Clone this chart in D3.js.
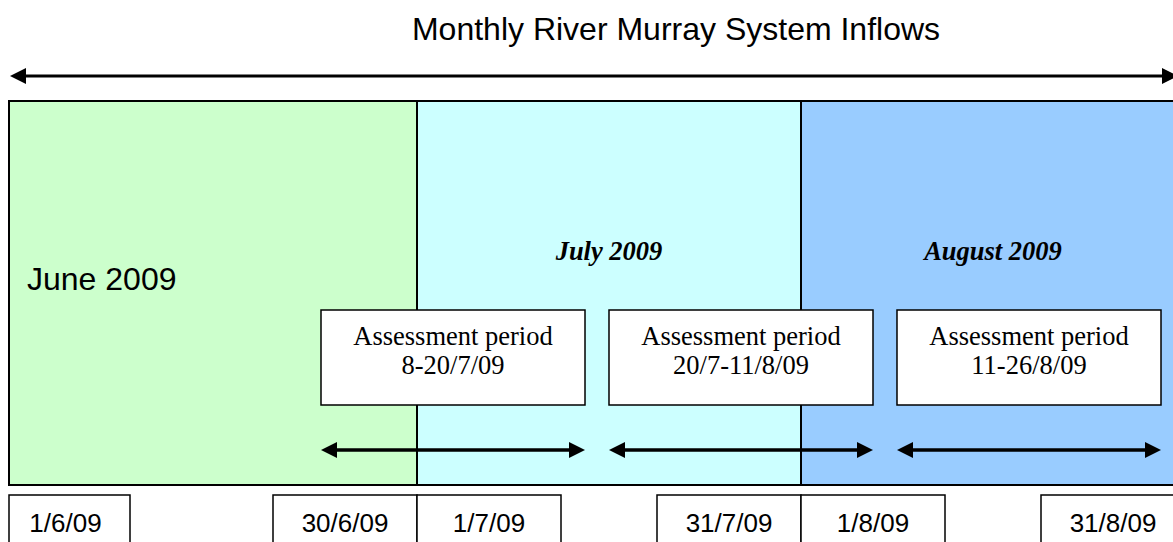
<!DOCTYPE html>
<html>
<head>
<meta charset="utf-8">
<script src="https://cdn.jsdelivr.net/npm/d3@7"></script>
<style>
  body { margin: 0; background: #fff; }
  svg { display: block; }
</style>
</head>
<body>
<svg id="chart"></svg>
<script>
// data
const title = "Monthly River Murray System Inflows";
const months = ["June 2009", "July 2009", "August 2009"];
const monthStarts = ["2009-06-01", "2009-07-01", "2009-08-01", "2009-09-01"];
const monthColors = ["#CCFFCC", "#CCFFFF", "#99CCFF"];
const periods = ["8-20/7/09", "20/7-11/8/09", "11-26/8/09"];
const dateLabels = ["1/6/09", "30/6/09", "1/7/09", "31/7/09", "1/8/09", "31/8/09"];
const dateValues = ["2009-06-01", "2009-06-30", "2009-07-01", "2009-07-31", "2009-08-01", "2009-08-31"];
const dateAlign = ["start", "end", "start", "end", "start", "end"];

const W = 1173, H = 542;
const svg = d3.select("svg#chart").attr("width", W).attr("height", H);

const parse = d3.timeParse("%Y-%m-%d");
// each month gets its own span of the width
let x = d3.scaleTime()
    .domain(monthStarts.map(parse))
    .range([9, 417, 801, 1185]);

let band = d3.scaleBand()
    .domain(periods)
    .range([321, 1161])
    .paddingInner(0.0833)
    .paddingOuter(0);

const panelTop = 101, panelBottom = 485;
const sans = "Arial, 'Liberation Sans', sans-serif";
const serif = "'Times New Roman', 'Liberation Serif', serif";

function arrowHead(g, xTip, y, dir) {
    // dir = -1 points left, 1 points right
    g.append("path")
        .attr("d", `M${xTip},${y} L${xTip - dir * 16},${y - 8} L${xTip - dir * 16},${y + 8} Z`)
        .attr("fill", "#000");
}

function doubleArrow(x0, x1, y, w) {
    let g = svg.append("g");
    g.append("line")
        .attr("x1", x0 + 10).attr("x2", x1 - 10)
        .attr("y1", y).attr("y2", y)
        .attr("stroke", "#000")
        .attr("stroke-width", w);
    arrowHead(g, x0, y, -1);
    arrowHead(g, x1, y, 1);
}

// title
svg.append("text")
    .attr("x", 676).attr("y", 40)
    .attr("text-anchor", "middle")
    .style("font-family", sans)
    .style("font-size", "32px")
    .text(title);

doubleArrow(10, 1178, 76, 3);

// month panels
svg.selectAll("rect.month")
    .data(months)
    .enter()
    .append("rect")
    .classed("month", true)
    .attr("x", (d, i) => x(parse(monthStarts[i])))
    .attr("width", (d, i) => x(parse(monthStarts[i + 1])) - x(parse(monthStarts[i])))
    .attr("y", panelTop)
    .attr("height", panelBottom - panelTop)
    .attr("fill", (d, i) => monthColors[i])
    .attr("stroke", "#000")
    .attr("stroke-width", 2);

svg.append("text")
    .attr("x", x(parse(monthStarts[0])) + 18).attr("y", 290)
    .style("font-family", sans)
    .style("font-size", "32px")
    .text(months[0]);

svg.selectAll("text.month")
    .data(months.slice(1))
    .enter()
    .append("text")
    .classed("month", true)
    .attr("x", (d, i) => (x(parse(monthStarts[i + 1])) + x(parse(monthStarts[i + 2]))) / 2)
    .attr("y", 260)
    .attr("text-anchor", "middle")
    .style("font-family", serif)
    .style("font-size", "26.5px")
    .style("font-weight", "bold")
    .style("font-style", "italic")
    .text(d => d);

// assessment period boxes
let boxes = svg.selectAll("g.period")
    .data(periods)
    .enter()
    .append("g")
    .classed("period", true);

boxes.append("rect")
    .attr("x", d => band(d))
    .attr("width", band.bandwidth())
    .attr("y", 310)
    .attr("height", 95)
    .attr("fill", "#fff")
    .attr("stroke", "#000")
    .attr("stroke-width", 1.5);

boxes.append("text")
    .attr("text-anchor", "middle")
    .style("font-family", serif)
    .style("font-size", "26.5px")
    .each(function (d) {
        let t = d3.select(this);
        let cx = band(d) + band.bandwidth() / 2;
        t.append("tspan").attr("x", cx).attr("y", 345).text("Assessment period");
        t.append("tspan").attr("x", cx).attr("y", 374).text(d);
    });

periods.forEach(p => doubleArrow(band(p), band(p) + band.bandwidth(), 450, 3.5));

// date boxes under the panels
let dates = svg.selectAll("g.date")
    .data(dateLabels)
    .enter()
    .append("g")
    .classed("date", true);

const boxW = (i) => (i === 0 ? 121 : 144);
const boxX = (i) => {
    let xv = x(parse(dateAlign[i] === "start" ? dateValues[i] : monthStarts[Math.floor(i / 2) + 1]));
    return dateAlign[i] === "start" ? xv : xv - boxW(i);
};

dates.append("rect")
    .attr("x", (d, i) => boxX(i))
    .attr("width", (d, i) => boxW(i))
    .attr("y", 495)
    .attr("height", 60)
    .attr("fill", "#fff")
    .attr("stroke", "#000")
    .attr("stroke-width", 1.5);

dates.append("text")
    .attr("x", (d, i) => boxX(i) + boxW(i) / 2 - (i === 0 ? 4 : 0))
    .attr("y", 532)
    .attr("text-anchor", "middle")
    .style("font-family", sans)
    .style("font-size", "26px")
    .text(d => d);
</script>
</body>
</html>
